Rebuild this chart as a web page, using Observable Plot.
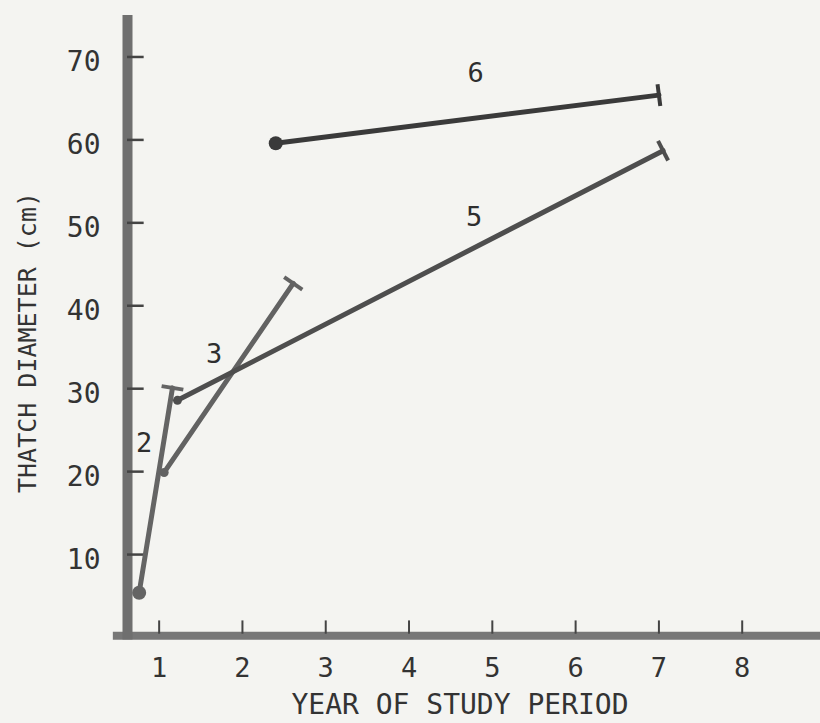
<!DOCTYPE html>
<html>
<head>
<meta charset="utf-8">
<script src="https://cdn.jsdelivr.net/npm/d3@7"></script>
<script src="https://cdn.jsdelivr.net/npm/@observablehq/plot@0.6"></script>
<style>
  html, body { margin: 0; padding: 0; background: #f4f4f1; }
  #chart { width: 820px; height: 723px; }
</style>
</head>
<body>
<div id="chart"></div>
<script>
// Series (labelled on the chart as 2, 3, 5, 6)
const series     = ["2", "3", "5", "6"];
const startYear  = [0.76, 1.06, 1.22, 2.40];
const startDiam  = [5.4, 19.9, 28.6, 59.6];
const endYear    = [1.16, 2.61, 7.05, 7.00];
const endDiam    = [30.1, 42.7, 58.7, 65.4];
const startKind  = ["dot", "blob", "blob", "dot"];
const labelYear  = [0.82, 1.66, 4.78, 4.80];
const labelDiam  = [23.4, 34.2, 50.6, 68.0];

const xTicks = [1, 2, 3, 4, 5, 6, 7, 8];
const yTicks = [10, 20, 30, 40, 50, 60, 70];

const xTitle = "YEAR OF STUDY PERIOD";
const yTitle = "THATCH DIAMETER (cm)";

const colors = {"2": "#646464", "3": "#626262", "5": "#4e4e4e", "6": "#3a3a3a"};

const rows = series.map((s, i) => ({
  s, x1: startYear[i], y1: startDiam[i], x2: endYear[i], y2: endDiam[i],
  kind: startKind[i], lx: labelYear[i], ly: labelDiam[i]
}));

const xMin = 0.62, xMax = 8.94;
const font = "DejaVu Sans Mono";

const plot = Plot.plot({
  width: 820,
  height: 723,
  marginTop: 15,
  marginBottom: 86,
  marginLeft: 127,
  marginRight: 0,
  style: {background: "transparent", fontFamily: font, color: "#333"},
  x: {domain: [xMin, xMax], axis: null},
  y: {domain: [0, 75], axis: null},
  marks: [
    // axes bars
    Plot.ruleY([0.2], {x1: 0.45, x2: xMax, stroke: "#777", strokeWidth: 8}),
    Plot.ruleX([xMin], {y1: -0.3, y2: 75, stroke: "#6f6f6f", strokeWidth: 10}),
    // inward ticks
    Plot.ruleX(xTicks, {y1: 0.4, y2: 2.0, stroke: "#444", strokeWidth: 2}),
    Plot.ruleY(yTicks, {x1: xMin, x2: xMin + 0.2, stroke: "#444", strokeWidth: 2.5}),
    // tick labels
    Plot.text(xTicks, {x: d => d, y: 0, dy: 31, text: d => String(d), fontSize: 27, fill: "#333", fontFamily: font}),
    Plot.text(yTicks, {x: xMin, y: d => d, dx: -27, dy: 5, text: d => String(d), textAnchor: "end", fontSize: 28, fill: "#333", fontFamily: font}),
    // axis titles
    Plot.text([xTitle], {frameAnchor: "bottom", textAnchor: "middle", dx: -14, dy: 76, fontSize: 28, fill: "#333", fontFamily: font}),
    Plot.text([yTitle], {frameAnchor: "left", textAnchor: "middle", dx: -100, dy: 16, rotate: -90, fontSize: 25, fill: "#333", fontFamily: font}),
    // series lines
    Plot.link(rows, {x1: "x1", y1: "y1", x2: "x2", y2: "y2", stroke: d => colors[d.s], strokeWidth: 5, strokeLinecap: "round"}),
    Plot.dot(rows.filter(d => d.kind === "dot"), {x: "x1", y: "y1", r: 7, fill: d => colors[d.s], stroke: "none"}),
    Plot.dot(rows.filter(d => d.kind === "blob"), {x: "x1", y: "y1", r: 4.5, fill: d => colors[d.s], stroke: "none"}),
    // series labels
    Plot.text(rows, {x: "lx", y: "ly", text: "s", fontSize: 27, fill: "#2e2e2e", fontFamily: font})
  ]
});
document.getElementById("chart").appendChild(plot);

// perpendicular end bars as SVG markers on the link paths (orient auto)
const svg = d3.select(plot);
const defs = svg.insert("defs", ":first-child");
const linkPaths = svg.selectAll("g[aria-label='link'] path");
linkPaths.each(function(_, i) {
  const c = colors[rows[i].s];
  const id = "endbar-" + i;
  defs.append("marker")
    .attr("id", id)
    .attr("markerUnits", "userSpaceOnUse")
    .attr("viewBox", "-12 -12 24 24")
    .attr("markerWidth", 24)
    .attr("markerHeight", 24)
    .attr("orient", "auto")
    .attr("overflow", "visible")
    .append("path")
    .attr("d", "M0,-11V11")
    .attr("stroke", c)
    .attr("stroke-width", 4)
    .attr("fill", "none");
  d3.select(this).attr("marker-end", `url(#${id})`);
});
</script>
</body>
</html>
